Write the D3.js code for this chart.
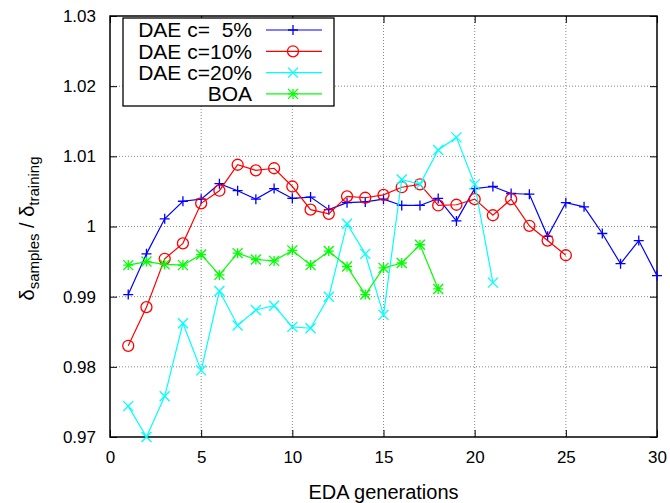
<!DOCTYPE html>
<html>
<head>
<meta charset="utf-8">
<script src="https://cdn.jsdelivr.net/npm/d3@7"></script>
<style>
  body { margin: 0; background: #fff; }
  text { font-family: "Liberation Sans", Arial, sans-serif; }
</style>
</head>
<body>
<div id="chart"></div>
<script>
// values
var gens5 = d3.range(1, 31);
var dae5 = [0.9903, 0.9961, 1.0011, 1.0036, 1.0039, 1.0061, 1.0051, 1.0039, 1.0054, 1.0040,
            1.0042, 1.0024, 1.0034, 1.0035, 1.0039, 1.0030, 1.0030, 1.0040, 1.0008, 1.0054,
            1.0057, 1.0047, 1.0046, 0.9986, 1.0034, 1.0028, 0.9990, 0.9947, 0.9980, 0.9930];
var gens10 = d3.range(1, 26);
var dae10 = [0.9830, 0.9885, 0.9954, 0.9976, 1.0033, 1.0051, 1.0088, 1.0080, 1.0083, 1.0057,
             1.0024, 1.0018, 1.0043, 1.0041, 1.0045, 1.0056, 1.0060, 1.0030, 1.0031, 1.0039,
             1.0016, 1.0039, 1.0001, 0.9980, 0.9959];
var gens20 = d3.range(1, 22);
var dae20 = [0.9744, 0.9700, 0.9758, 0.9862, 0.9795, 0.9908, 0.9859, 0.9881, 0.9887, 0.9857,
             0.9855, 0.9900, 1.0004, 0.9961, 0.9874, 1.0067, 1.0060, 1.0109, 1.0127, 1.0060,
             0.9920];
var gensBoa = d3.range(1, 19);
var boa = [0.9945, 0.9950, 0.9946, 0.9945, 0.9960, 0.9931, 0.9962, 0.9953, 0.9951, 0.9966,
           0.9945, 0.9965, 0.9943, 0.9903, 0.9941, 0.9948, 0.9974, 0.9911];

var xTicks = [0, 5, 10, 15, 20, 25, 30];
var yTicks = [0.97, 0.98, 0.99, 1.00, 1.01, 1.02, 1.03];
var yTickLabels = ["0.97", "0.98", "0.99", "1", "1.01", "1.02", "1.03"];

var series = [
  {name: "DAE c=  5%", x: gens5, y: dae5, color: "#0000ff", mark: "plus"},
  {name: "DAE c=10%", x: gens10, y: dae10, color: "#ff0000", mark: "circle"},
  {name: "DAE c=20%", x: gens20, y: dae20, color: "#00ffff", mark: "cross"},
  {name: "BOA", x: gensBoa, y: boa, color: "#00ff00", mark: "star"}
];

var W = 670, H = 503;
var margin = {top: 16, right: 13, bottom: 66, left: 110},
    width = W - margin.left - margin.right,
    height = H - margin.top - margin.bottom;

var x = d3.scaleLinear().domain([0, 30]).range([0, width]);
var y = d3.scaleLinear().domain([0.97, 1.03]).range([height, 0]);

var svg = d3.select("#chart").append("svg")
    .attr("width", W)
    .attr("height", H)
  .append("g")
    .attr("transform", "translate(" + margin.left + "," + margin.top + ")");

// dotted grid
svg.append("g")
    .selectAll("line")
    .data(xTicks.slice(1, -1))
  .enter().append("line")
    .attr("x1", function(d) { return x(d); })
    .attr("x2", function(d) { return x(d); })
    .attr("y1", 0).attr("y2", height)
    .attr("stroke", "#888").attr("stroke-width", 1).attr("stroke-dasharray", "1,2");
svg.append("g")
    .selectAll("line")
    .data(yTicks.slice(1, -1))
  .enter().append("line")
    .attr("x1", 0).attr("x2", width)
    .attr("y1", function(d) { return y(d); })
    .attr("y2", function(d) { return y(d); })
    .attr("stroke", "#888").attr("stroke-width", 1).attr("stroke-dasharray", "1,2");

// axes, ticks pointing inward on all sides
var fmtY = function(d, i) { return yTickLabels[i]; };
svg.append("g")
    .attr("transform", "translate(0," + height + ")")
    .call(d3.axisBottom(x).tickValues(xTicks).tickSizeInner(-7).tickSizeOuter(0).tickPadding(14))
    .call(function(g) { g.select(".domain").remove(); });
svg.append("g")
    .call(d3.axisTop(x).tickValues(xTicks).tickSizeInner(-7).tickSizeOuter(0).tickFormat(""))
    .call(function(g) { g.select(".domain").remove(); });
svg.append("g")
    .call(d3.axisLeft(y).tickValues(yTicks).tickSizeInner(-7).tickSizeOuter(0).tickPadding(14).tickFormat(fmtY))
    .call(function(g) { g.select(".domain").remove(); });
svg.append("g")
    .attr("transform", "translate(" + width + ",0)")
    .call(d3.axisRight(y).tickValues(yTicks).tickSizeInner(-7).tickSizeOuter(0).tickFormat(""))
    .call(function(g) { g.select(".domain").remove(); });

svg.selectAll(".tick line").attr("stroke", "#000");
svg.selectAll(".tick text")
    .attr("fill", "#000")
    .style("font-size", "17px")
    .style("font-family", "'Liberation Sans', Arial, sans-serif");

svg.append("rect")
    .attr("x", 0).attr("y", 0)
    .attr("width", width).attr("height", height)
    .attr("fill", "none").attr("stroke", "#000").attr("stroke-width", 1.5);

// axis titles
svg.append("text")
    .attr("x", width / 2)
    .attr("y", height + 62)
    .attr("text-anchor", "middle")
    .style("font-size", "20px")
    .text("EDA generations");

var yl = svg.append("text")
    .attr("transform", "translate(-76," + (height / 2 + 2) + ") rotate(-90)")
    .attr("text-anchor", "middle")
    .style("font-size", "20px");
yl.append("tspan").text("\u03b4");
yl.append("tspan").attr("baseline-shift", "-30%").style("font-size", "15px").text("samples");
yl.append("tspan").text(" / \u03b4");
yl.append("tspan").attr("baseline-shift", "-30%").style("font-size", "15px").text("training");

// marker drawing
function drawMark(g, mark, color) {
  var s = 5;
  if (mark === "plus") {
    g.append("path").attr("d", "M" + -s + ",0H" + s + "M0," + -s + "V" + s)
      .attr("stroke", color).attr("stroke-width", 1.3).attr("fill", "none");
  } else if (mark === "circle") {
    g.append("circle").attr("r", 5.5)
      .attr("stroke", color).attr("stroke-width", 1.3).attr("fill", "none");
  } else if (mark === "cross") {
    g.append("path").attr("d", "M" + -s + "," + -s + "L" + s + "," + s + "M" + -s + "," + s + "L" + s + "," + -s)
      .attr("stroke", color).attr("stroke-width", 1.3).attr("fill", "none");
  } else {
    g.append("path").attr("d", "M" + -s + ",0H" + s + "M0," + -s + "V" + s +
        "M" + -s + "," + -s + "L" + s + "," + s + "M" + -s + "," + s + "L" + s + "," + -s)
      .attr("stroke", color).attr("stroke-width", 1.3).attr("fill", "none");
  }
}

var line = d3.line()
    .x(function(d) { return x(d[0]); })
    .y(function(d) { return y(d[1]); });

series.forEach(function(s) {
  var pts = d3.zip(s.x, s.y);
  svg.append("path")
      .datum(pts)
      .attr("d", line)
      .attr("fill", "none")
      .attr("stroke", s.color)
      .attr("stroke-width", 1.2);
  svg.append("g").selectAll("g")
      .data(pts)
    .enter().append("g")
      .attr("transform", function(d) { return "translate(" + x(d[0]) + "," + y(d[1]) + ")"; })
      .each(function() { drawMark(d3.select(this), s.mark, s.color); });
});

// legend
var legend = svg.append("g").attr("transform", "translate(13,2)");
legend.append("rect")
    .attr("x", 0).attr("y", 0)
    .attr("width", 211).attr("height", 88)
    .attr("fill", "#fff").attr("stroke", "#000").attr("stroke-width", 1.3);
series.forEach(function(s, i) {
  var ry = 12 + i * 21.3;
  legend.append("text")
      .attr("x", 129).attr("y", ry)
      .attr("dy", "0.35em")
      .attr("text-anchor", "end")
      .style("font-size", "21px")
      .style("white-space", "pre")
      .text(s.name);
  legend.append("line")
      .attr("x1", 143).attr("x2", 199)
      .attr("y1", ry).attr("y2", ry)
      .attr("stroke", s.color).attr("stroke-width", 1.2);
  var m = legend.append("g").attr("transform", "translate(170," + ry + ")");
  drawMark(m, s.mark, s.color);
});
</script>
</body>
</html>
